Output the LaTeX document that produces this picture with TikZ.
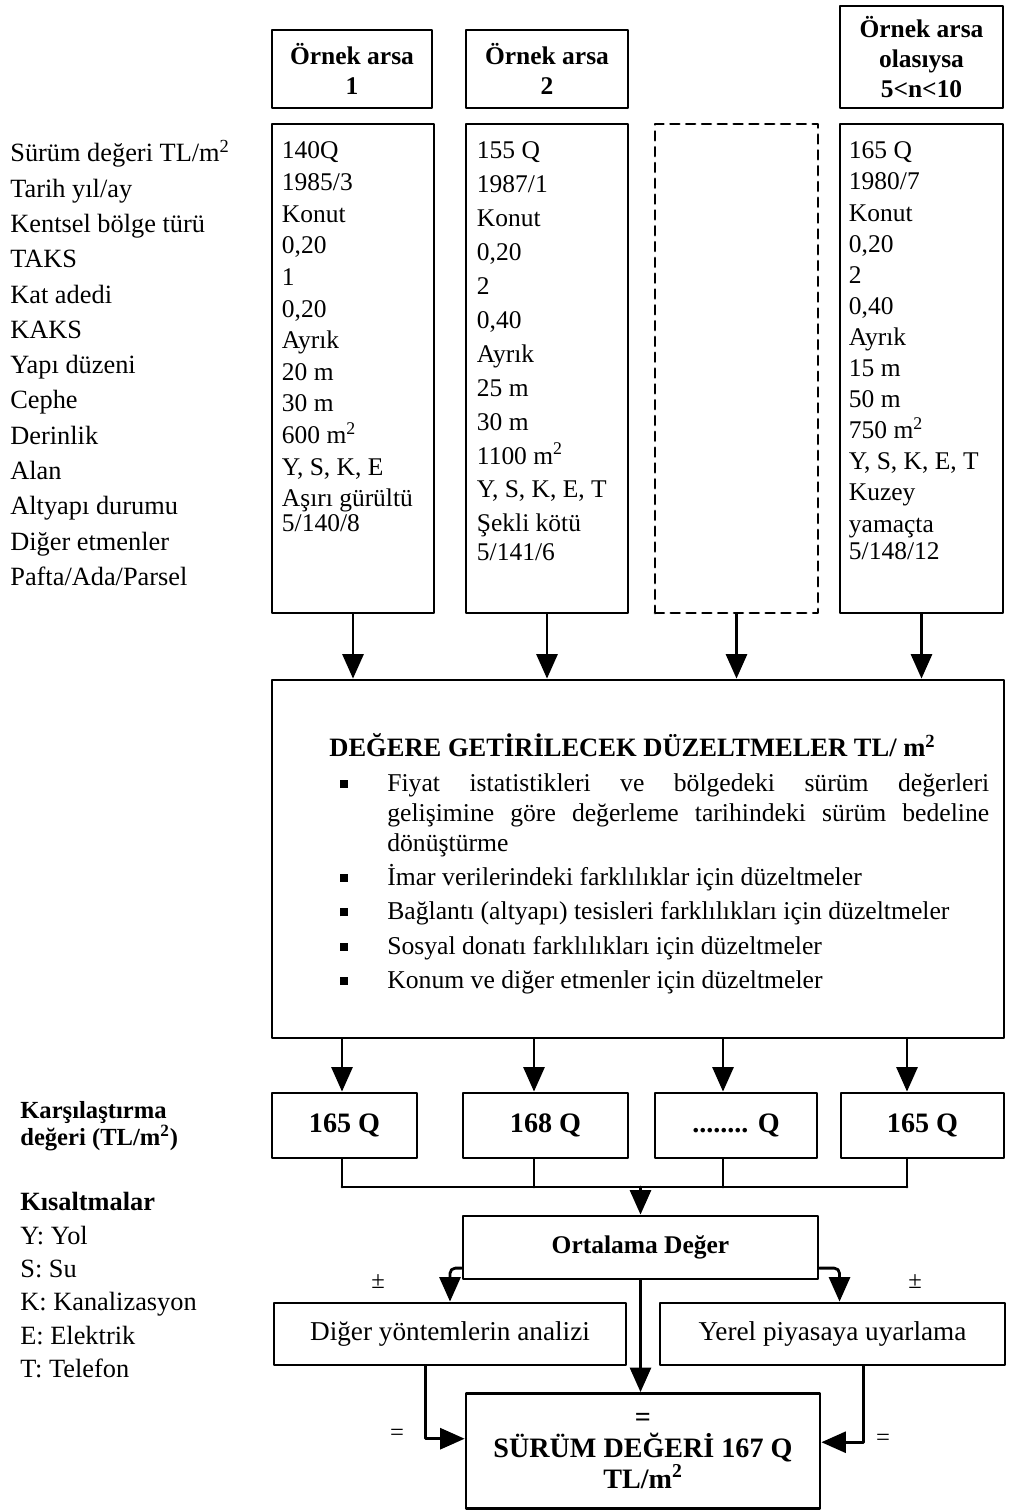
\documentclass[tikz,border=0pt]{standalone}
\usepackage{fontspec}
\setmainfont{Liberation Serif}
\usetikzlibrary{arrows.meta,calc,positioning}

\begin{document}
\begin{tikzpicture}[x=0.02cm,y=-0.02cm,line join=round,line cap=round,
	kutu/.style={draw,line width=1.6pt,inner sep=0pt},
	ok/.style={line width=1.6pt,-{Triangle[length=14pt,width=12pt]}},
	hat/.style={line width=1.6pt},
	yazi/.style={inner sep=0pt,align=left,anchor=north west},
	kalin/.style={font=\bfseries\fontsize{14.5}{17}\selectfont}]
	\useasboundingbox (0,0) rectangle (1009,1510);
	% basliklar
	\node[kutu,kalin,align=center,minimum width=3.2cm,minimum height=1.56cm] (h1) at (352,69) {Örnek arsa\\1};
	\node[kutu,kalin,align=center,minimum width=3.24cm,minimum height=1.56cm] (h2) at (547,69) {Örnek arsa\\2};
	\node[kutu,kalin,align=center,minimum width=3.26cm,minimum height=2.04cm] (h4) at (921.5,57) {Örnek arsa\\olasıysa\\5<n<10};
	% ornek arsa kutulari
	\node[kutu,minimum width=3.24cm,minimum height=9.78cm] (d1) at (353,368.5) {};
	\node[kutu,minimum width=3.24cm,minimum height=9.78cm] (d2) at (547,368.5) {};
	\node[kutu,dashed,dash pattern=on 5pt off 4pt,minimum width=3.26cm,minimum height=9.78cm] (d3) at (736.5,368.5) {};
	\node[kutu,minimum width=3.26cm,minimum height=9.78cm] (d4) at (921.5,368.5) {};
	\node[yazi,font=\fontsize{15}{20.1}\selectfont] (etiket) at (10,140) {Sürüm değeri TL/m\textsuperscript{2}\\Tarih yıl/ay\\Kentsel bölge türü\\TAKS\\Kat adedi\\KAKS\\Yapı düzeni\\Cephe\\Derinlik\\Alan\\Altyapı durumu\\Diğer etmenler\\Pafta/Ada/Parsel};
	\node[yazi,font=\fontsize{14.5}{18}\selectfont] (t1) at ([shift={(11,19)}]d1.north west) {140Q\\1985/3\\Konut\\0,20\\1\\0,20\\Ayrık\\20 m\\30 m\\600 m\textsuperscript{2}\\Y, S, K, E\\Aşırı gürültü\\[-4pt]5/140/8};
	\node[yazi,font=\fontsize{14.5}{19.3}\selectfont] (t2) at ([shift={(12,19)}]d2.north west) {155 Q\\1987/1\\Konut\\0,20\\2\\0,40\\Ayrık\\25 m\\30 m\\1100 m\textsuperscript{2}\\Y, S, K, E, T\\Şekli kötü\\[-3pt]5/141/6};
	\node[yazi,font=\fontsize{14.5}{17.7}\selectfont] (t4) at ([shift={(10,19)}]d4.north west) {165 Q\\1980/7\\Konut\\0,20\\2\\0,40\\Ayrık\\15 m\\50 m\\750 m\textsuperscript{2}\\Y, S, K, E, T\\Kuzey\\yamaçta\\[-2.3pt]5/148/12};
	% duzeltmeler
	\node[kutu,minimum width=14.64cm,minimum height=7.16cm] (duz) at (638,859) {};
	\node[inner sep=0pt,anchor=north west,text width=13.2cm,align=justify,font=\fontsize{14.6}{17}\selectfont] (metin) at (329,733) {%
		\hyphenpenalty=10000\exhyphenpenalty=10000\noindent
		\textbf{\fontsize{15.1}{17}\selectfont DEĞERE GETİRİLECEK DÜZELTMELER TL/ m\textsuperscript{2}}
		\begin{list}{\rule[2pt]{4.5pt}{4.5pt}}{\setlength{\leftmargin}{1.16cm}\setlength{\labelsep}{0.78cm}\setlength{\labelwidth}{0.38cm}\setlength{\topsep}{3pt}\setlength{\itemsep}{2.5pt}\setlength{\parsep}{0pt}\setlength{\partopsep}{0pt}}
			\item Fiyat istatistikleri ve bölgedeki sürüm değerleri\linebreak gelişimine göre değerleme tarihindeki sürüm bedeline\linebreak dönüştürme
			\item İmar verilerindeki farklılıklar için düzeltmeler
			\item Bağlantı (altyapı) tesisleri farklılıkları için düzeltmeler
			\item Sosyal donatı farklılıkları için düzeltmeler
			\item Konum ve diğer etmenler için düzeltmeler
		\end{list}};
	\foreach \i in {1,2,3,4}{\draw[ok] (d\i.south) -- (d\i.south |- duz.north);}
	% karsilastirma degerleri
	\node[yazi,font=\bfseries\fontsize{14}{14.5}\selectfont] (kars) at (20,1101) {Karşılaştırma\\değeri (TL/m\textsuperscript{2})};
	\node[kutu,font=\bfseries\fontsize{16}{17}\selectfont,minimum width=2.9cm,minimum height=1.3cm] (v1) at (344.5,1125.5) {165 Q};
	\node[kutu,font=\bfseries\fontsize{16}{17}\selectfont,minimum width=3.3cm,minimum height=1.3cm] (v2) at (545.5,1125.5) {168 Q};
	\node[kutu,font=\bfseries\fontsize{16}{17}\selectfont,minimum width=3.24cm,minimum height=1.3cm] (v3) at (736,1125.5) {........ Q};
	\node[kutu,font=\bfseries\fontsize{16}{17}\selectfont,minimum width=3.26cm,minimum height=1.3cm] (v4) at (922.5,1125.5) {165 Q};
	\foreach \i/\x in {1/342,2/534,3/723,4/907}{
		\coordinate (k\i) at (\x,1187);
		\draw[ok] (duz.south -| k\i) -- (v\i.north -| k\i);
		\draw[hat] (v\i.south -| k\i) -- (k\i);}
	\draw[hat] (k1) -- (k4);
	% kisaltmalar
	\node[yazi,font=\fontsize{15}{19}\selectfont] (kisa) at (20,1192) {\textbf{Kısaltmalar}\\Y: Yol\\S: Su\\K: Kanalizasyon\\E: Elektrik\\T: Telefon};
	% ortalama ve sonuc
	\node[kutu,kalin,minimum width=7.1cm,minimum height=1.26cm] (ort) at (640.5,1247.5) {Ortalama Değer};
	\draw[ok] (k1 -| ort.north) -- (ort.north);
	\node[kutu,font=\fontsize{15.5}{17}\selectfont,minimum width=7.04cm,minimum height=1.24cm] (dig) at (450,1334) {Diğer yöntemlerin analizi};
	\node[kutu,font=\fontsize{15.5}{17}\selectfont,minimum width=6.9cm,minimum height=1.24cm] (yer) at (832.5,1334) {Yerel piyasaya uyarlama};
	\node[kutu,font=\bfseries\fontsize{16}{17.5}\selectfont,align=center,minimum width=7.08cm,minimum height=2.3cm] (sur) at (643,1451) {=\\SÜRÜM DEĞERİ 167 Q\\TL/m\textsuperscript{2}};
	\draw[ok,rounded corners=3pt] ([yshift=7pt]ort.south west) -| (dig.north);
	\draw[ok,rounded corners=3pt] ([yshift=7pt]ort.south east) -| ([xshift=4pt]yer.north);
	\draw[ok] (ort.south) -- (ort.south |- sur.north);
	\draw[ok] ([xshift=-14pt]dig.south) |- ([yshift=7pt]sur.west);
	\draw[ok] ([xshift=17.6pt]yer.south) |- ([yshift=5pt]sur.east);
	\node[font=\fontsize{14}{17}\selectfont] (pm1) at (378,1282) {±};
	\node[font=\fontsize{14}{17}\selectfont] (pm2) at (915,1282) {±};
	\node[font=\fontsize{14}{17}\selectfont] (eq1) at (397,1435) {=};
	\node[font=\fontsize{14}{17}\selectfont] (eq2) at (883,1440) {=};
\end{tikzpicture}
\end{document}
